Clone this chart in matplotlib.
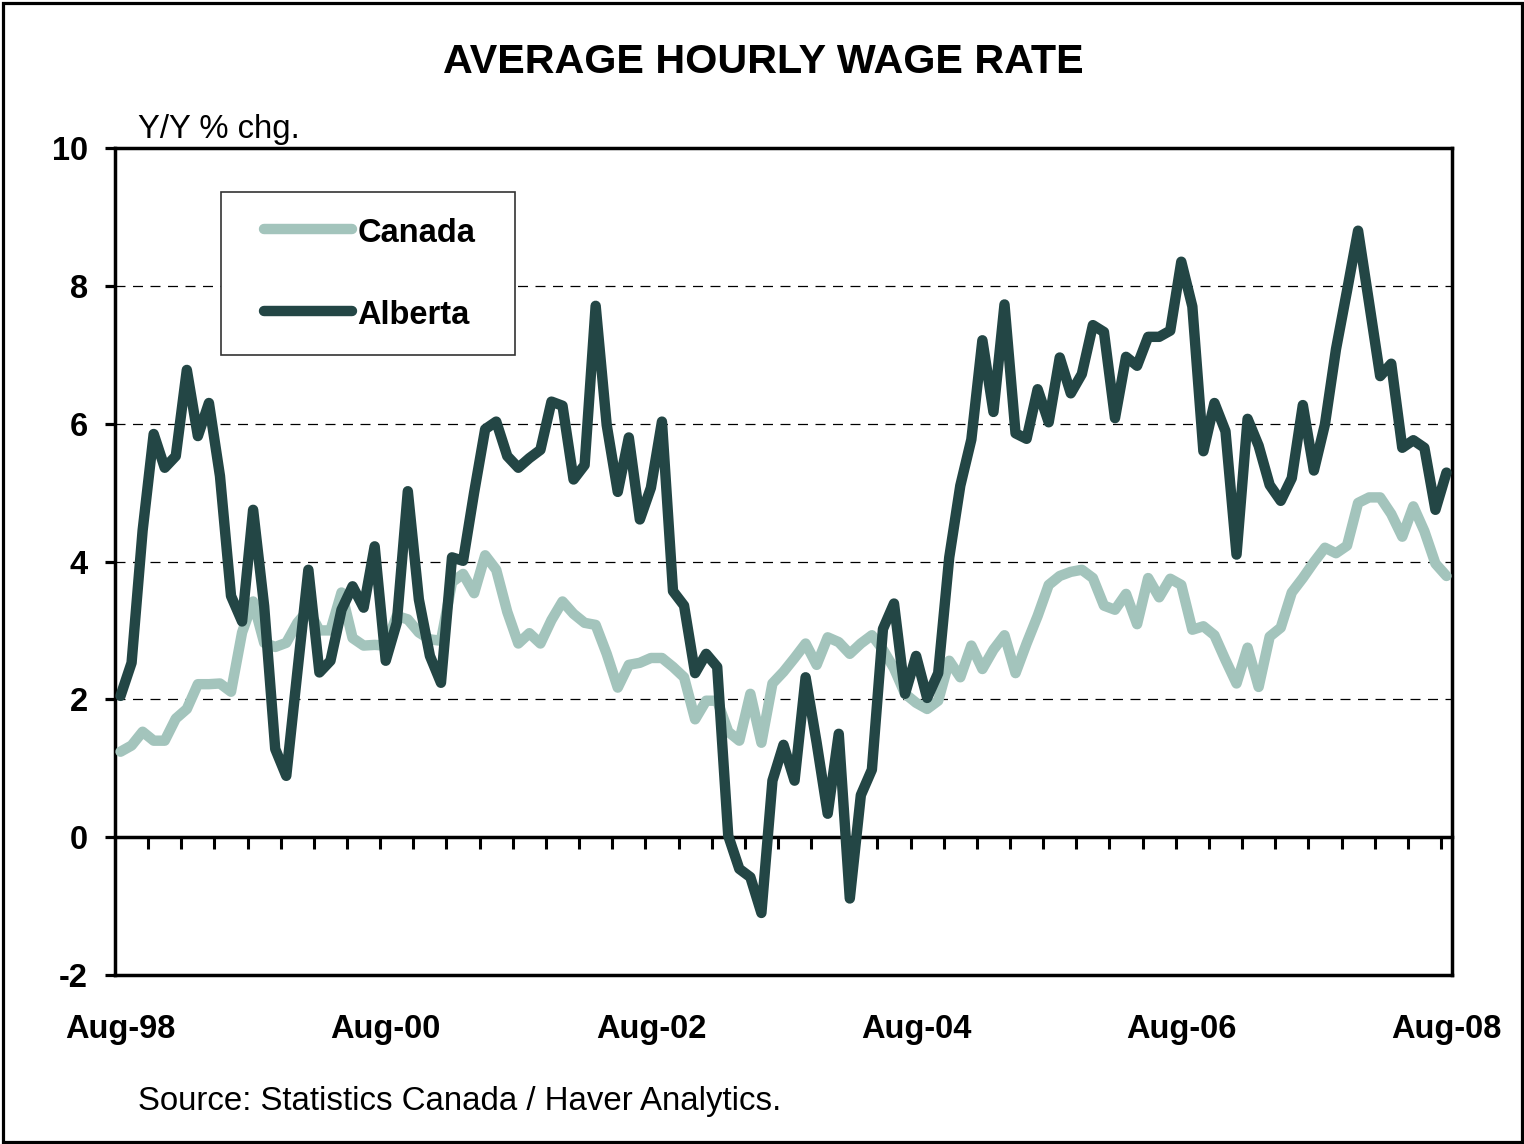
import matplotlib
matplotlib.use("Agg")
import matplotlib.pyplot as plt
import numpy as np
from matplotlib.patches import Rectangle
from matplotlib.lines import Line2D

plt.rcParams["font.family"] = ["Liberation Sans", "DejaVu Sans"]
plt.rcParams["axes.unicode_minus"] = False

# monthly y/y % change, Aug-98 .. Aug-08
canada = [
    1.24, 1.33, 1.53, 1.40, 1.40, 1.72, 1.86, 2.22, 2.22, 2.23, 2.11, 2.97,
    3.42, 2.82, 2.76, 2.82, 3.11, 3.30, 3.00, 3.00, 3.55, 2.89, 2.78, 2.79,
    2.78, 3.21, 3.16, 2.97, 2.87, 2.85, 3.70, 3.82, 3.54, 4.09, 3.88, 3.27,
    2.81, 2.96, 2.81, 3.15, 3.42, 3.24, 3.11, 3.08, 2.66, 2.17, 2.50, 2.53,
    2.60, 2.60, 2.47, 2.32, 1.71, 1.98, 1.98, 1.53, 1.40, 2.08, 1.37, 2.23,
    2.40, 2.60, 2.81, 2.50, 2.90, 2.83, 2.66, 2.81, 2.93, 2.72, 2.45, 2.08,
    1.95, 1.86, 1.98, 2.56, 2.32, 2.78, 2.44, 2.72, 2.93, 2.38, 2.81, 3.21,
    3.66, 3.79, 3.85, 3.88, 3.76, 3.36, 3.30, 3.53, 3.09, 3.76, 3.48, 3.75,
    3.66, 3.01, 3.06, 2.93, 2.57, 2.23, 2.75, 2.18, 2.91, 3.04, 3.55, 3.76,
    3.99, 4.20, 4.12, 4.23, 4.85, 4.93, 4.93, 4.69, 4.36, 4.80, 4.44, 3.97,
    3.79,
]
alberta = [
    2.05, 2.53, 4.45, 5.85, 5.36, 5.53, 6.78, 5.82, 6.30, 5.24, 3.50, 3.13,
    4.75, 3.35, 1.28, 0.89, 2.39, 3.88, 2.39, 2.56, 3.30, 3.64, 3.33, 4.22,
    2.56, 3.11, 5.02, 3.45, 2.63, 2.24, 4.06, 4.01, 5.00, 5.92, 6.03, 5.53,
    5.36, 5.50, 5.62, 6.32, 6.26, 5.19, 5.40, 7.71, 5.98, 5.01, 5.80, 4.61,
    5.07, 6.03, 3.57, 3.36, 2.38, 2.66, 2.47, 0.02, -0.46, -0.58, -1.10, 0.82,
    1.34, 0.82, 2.32, 1.37, 0.34, 1.50, -0.89, 0.61, 0.98, 3.02, 3.39, 2.08,
    2.63, 2.02, 2.38, 4.06, 5.10, 5.77, 7.21, 6.17, 7.73, 5.86, 5.78, 6.50,
    6.02, 6.96, 6.44, 6.72, 7.43, 7.33, 6.08, 6.97, 6.84, 7.26, 7.26, 7.35,
    8.35, 7.70, 5.60, 6.30, 5.89, 4.10, 6.07, 5.68, 5.11, 4.88, 5.21, 6.27,
    5.32, 5.99, 7.08, 7.93, 8.80, 7.75, 6.69, 6.87, 5.65, 5.76, 5.65, 4.75,
    5.29,
]
date_labels = ["Aug-98", "Aug-00", "Aug-02", "Aug-04", "Aug-06", "Aug-08"]

LIGHT = "#A3C4BC"
DARK = "#234645"
W, H = 1524, 1144


def main():
    fig = plt.figure(figsize=(W / 100, H / 100), dpi=100)
    fig.patch.set_facecolor("white")
    ax = fig.add_axes([115 / W, 1 - 975 / H, 1337 / W, 827 / H])

    x = np.arange(len(canada))
    ax.plot(x, canada, color=LIGHT, lw=7.5, solid_joinstyle="round",
            solid_capstyle="round", zorder=3)
    ax.plot(x, alberta, color=DARK, lw=7.5, solid_joinstyle="round",
            solid_capstyle="round", zorder=4)

    ax.set_xlim(-0.5, len(canada) - 0.5)
    ax.set_ylim(-2, 10)

    # y axis
    ax.set_yticks(np.arange(-2, 11, 2))
    ax.tick_params(axis="y", direction="out", length=7.5, width=2.3,
                   pad=12, labelsize=23.5)
    for lab in ax.get_yticklabels():
        lab.set_fontweight("bold")
    ax.yaxis.grid(True, color="black", lw=0.9, linestyle=(0, (8, 6)), zorder=1)
    ax.set_axisbelow(True)

    # x labels every two years, placed below the plot
    ax.set_xticks(x[::24])
    ax.set_xticklabels(date_labels, fontsize=23.5, fontweight="bold")
    ax.tick_params(axis="x", length=0, pad=28)

    for sp in ax.spines.values():
        sp.set_linewidth(2.5)
        sp.set_color("black")

    # zero line with quarterly ticks
    zero = ax.secondary_xaxis(0, transform=ax.transData)
    zero.set_xticks(np.arange(2.5, len(canada) - 1, 3))
    zero.tick_params(axis="x", direction="out", length=8.5, width=2.2,
                     labelbottom=False)
    zero.spines["bottom"].set_linewidth(2.5)
    zero.spines["bottom"].set_color("black")

    # legend box
    ax.add_patch(Rectangle((0.0793, 0.7497), 0.2199, 0.1971,
                           transform=ax.transAxes, facecolor="white",
                           edgecolor="#333333", lw=1.2, zorder=5))
    for yy, name, col in [(0.9021, "Canada", LIGHT), (0.8029, "Alberta", DARK)]:
        ax.add_line(Line2D([0.1114, 0.1773], [yy, yy], transform=ax.transAxes,
                           color=col, lw=7.5, solid_capstyle="round", zorder=6))
        ax.text(0.1813, yy - 0.006, name, transform=ax.transAxes, ha="left",
                va="center", fontsize=23.5, fontweight="bold", zorder=6)

    fig.text(763 / W, 1 - 62 / H, "AVERAGE HOURLY WAGE RATE", ha="center",
             va="center", fontsize=29.7, fontweight="bold")
    fig.text(138 / W, 1 - 138 / H, "Y/Y % chg.", ha="left", va="baseline",
             fontsize=23.7)
    fig.text(138 / W, 1 - 1110 / H, "Source: Statistics Canada / Haver Analytics.",
             ha="left", va="baseline", fontsize=23.75)

    fig.patches.append(Rectangle((2.5 / W, 2.5 / H), 1 - 5 / W, 1 - 5 / H,
                                 transform=fig.transFigure, fill=False,
                                 edgecolor="black", lw=2.3))

    fig.savefig("out.png", dpi=100, facecolor="white")
    plt.close(fig)


if __name__ == "__main__":
    main()
